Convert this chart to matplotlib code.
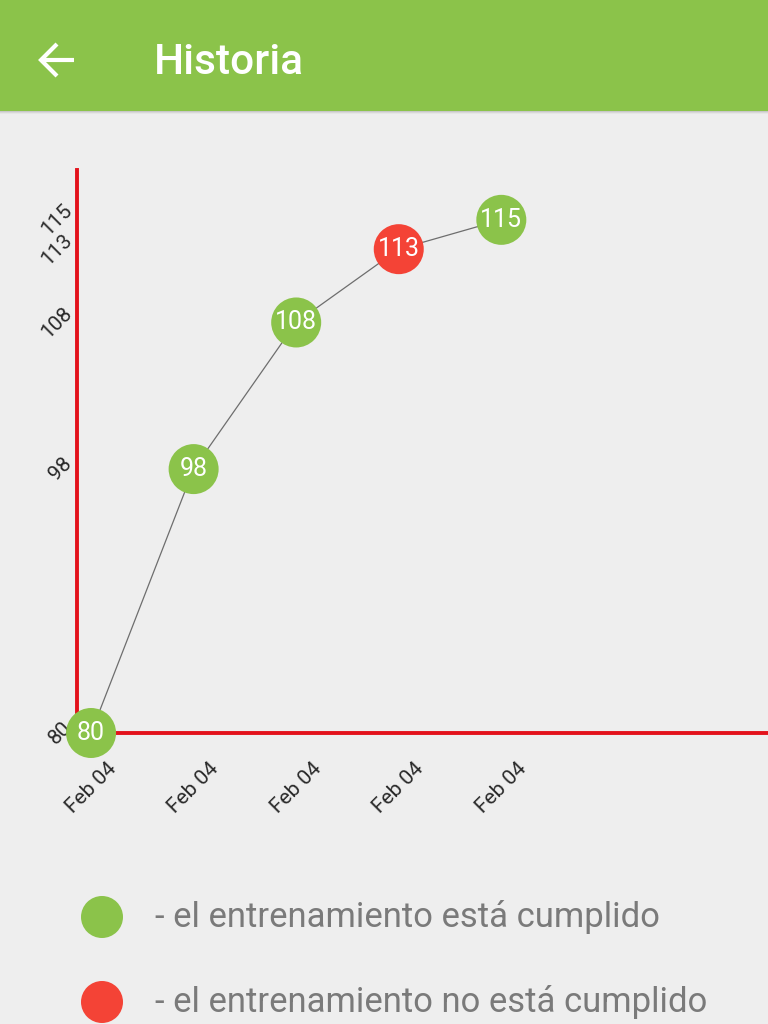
import matplotlib
matplotlib.use("Agg")
import matplotlib.pyplot as plt
from matplotlib.patches import Rectangle, Circle

# data
dates = ["Feb 04", "Feb 04", "Feb 04", "Feb 04", "Feb 04"]
values = [80, 98, 108, 113, 115]
done = [True, True, True, False, True]
legend_labels = ["- el entrenamiento está cumplido",
                 "- el entrenamiento no está cumplido"]

GREEN = "#8BC34A"
RED = "#F44336"
AXIS_RED = "#E3111B"
BG = "#EEEEEE"

plt.rcParams["font.family"] = ["Roboto", "DejaVu Sans"]

W, H = 768, 1024
fig = plt.figure(figsize=(W / 100, H / 100), dpi=100, facecolor=BG)

# overlay in pixel coords for app bar + legend
ov = fig.add_axes([0, 0, 1, 1], zorder=0)
ov.set_xlim(0, W)
ov.set_ylim(H, 0)
ov.axis("off")
ov.set_facecolor(BG)

# shadow + bar
for i, a in enumerate([0.10, 0.06, 0.03]):
    ov.add_patch(Rectangle((0, 110 + i), W, 1.5, color="black", alpha=a, lw=0))
ov.add_patch(Rectangle((0, 0), W, 111, color=GREEN, lw=0))
ov.plot([41, 74], [60, 60], color="white", lw=3, solid_capstyle="butt")
ov.plot([57, 41, 57], [44, 60, 76], color="white", lw=3,
        solid_joinstyle="miter", solid_capstyle="butt")
ov.text(154, 62, "Historia", color="white", fontsize=30.5, fontweight="medium",
        ha="left", va="center")

# legend
for k, (lab, col) in enumerate(zip(legend_labels, [GREEN, RED])):
    y = 917 + k * 85
    ov.add_patch(Circle((102, y), 21, color=col, lw=0))
    ov.text(155, y, lab, color="#7A7A7A", fontsize=24.9, ha="left", va="center")

# chart
ax = fig.add_axes([77 / W, 291 / H, 691 / W, 563 / H], zorder=1)
ax.set_facecolor("none")
xs = list(range(len(values)))
ax.plot(xs, values, color="#6E6E6E", lw=0.9, zorder=2)
cols = [GREEN if d else RED for d in done]
ax.scatter(xs, values, s=36 ** 2, c=cols, lw=0, zorder=3, clip_on=False)
for x, v in zip(xs, values):
    ax.text(x, v, str(v), color="white", fontsize=18, ha="center",
            va="center", zorder=4)

ax.set_xlim(-0.137, 6.6)
ax.set_ylim(80, 118.4)
for s in ["top", "right"]:
    ax.spines[s].set_visible(False)
for s in ["left", "bottom"]:
    ax.spines[s].set_color(AXIS_RED)
    ax.spines[s].set_linewidth(2.8)

ax.set_xticks(xs)
ax.set_xticklabels(dates, rotation=45, ha="center", fontsize=15,
                   color="#2A2A2A")
ax.set_yticks(values)
ax.set_yticklabels([str(v) for v in values], rotation=45, fontsize=15,
                   color="#2A2A2A", va="center", ha="right")
ax.tick_params(axis="x", length=0, pad=19)
ax.tick_params(axis="y", length=0, pad=1)

fig.savefig("out.png", dpi=100, facecolor=BG)
